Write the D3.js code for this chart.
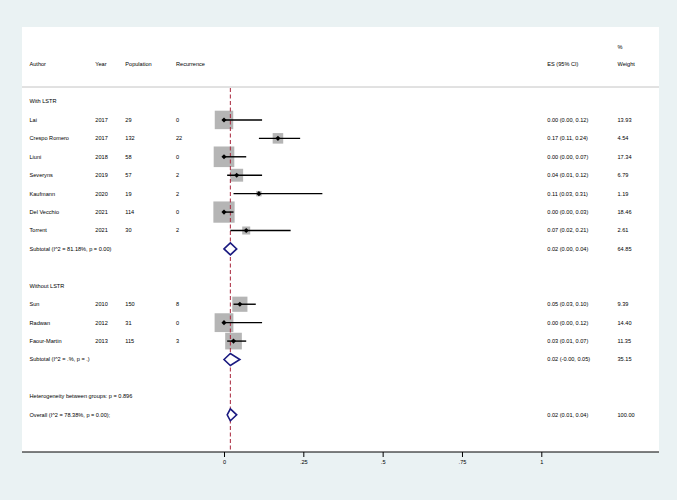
<!DOCTYPE html>
<html>
<head>
<meta charset="utf-8">
<script src="https://cdn.jsdelivr.net/npm/d3@7"></script>
<style>
  html, body { margin: 0; padding: 0; background: #eaf2f3; }
  svg { display: block; }
  text { font-family: "Liberation Sans", Arial, Helvetica, sans-serif; font-size: 5.6px; fill: #000; }
</style>
</head>
<body>
<svg id="chart" width="677" height="500"></svg>
<script>
// ---- data ----
const authors     = ["Lai", "Crespo Romero", "Liuni", "Severyns", "Kaufmann", "Del Vecchio", "Torrent", "Sun", "Radwan", "Faour-Martin"];
const years       = [2017, 2017, 2018, 2019, 2020, 2021, 2021, 2010, 2012, 2013];
const populations = [29, 132, 58, 57, 19, 114, 30, 150, 31, 115];
const recurrences = [0, 22, 0, 2, 2, 0, 2, 8, 0, 3];
const esValues    = [0.00, 0.17, 0.00, 0.04, 0.11, 0.00, 0.07, 0.05, 0.00, 0.03];
const ciLow       = [0.00, 0.11, 0.00, 0.01, 0.03, 0.00, 0.02, 0.03, 0.00, 0.01];
const ciHigh      = [0.12, 0.24, 0.07, 0.12, 0.31, 0.03, 0.21, 0.10, 0.12, 0.07];
const weights     = [13.93, 4.54, 17.34, 6.79, 1.19, 18.46, 2.61, 9.39, 14.40, 11.35];
const groups      = ["With LSTR", "Without LSTR"];
const groupOf     = [0, 0, 0, 0, 0, 0, 0, 1, 1, 1];
const subLabels   = ["Subtotal  (I^2 = 81.18%, p = 0.00)", "Subtotal  (I^2 = .%, p = .)"];
const subES       = [0.02, 0.02];
const subLow      = [0.00, -0.00];
const subHigh     = [0.04, 0.05];
const subLowText  = ["0.00", "-0.00"];
const subWeights  = [64.85, 35.15];
const hetText     = "Heterogeneity between groups: p = 0.896";
const overallLabel = "Overall  (I^2 = 78.38%, p = 0.00);";
const overallES = 0.02, overallLow = 0.01, overallHigh = 0.04, overallWeight = 100.00;
const tickValues  = [0, 0.25, 0.5, 0.75, 1];
const tickLabels  = ["0", ".25", ".5", ".75", "1"];

// ---- layout ----
const svg = d3.select("#chart");
const plot = { x0: 22, x1: 659, y0: 27, y1: 452 };
const x = d3.scaleLinear().domain([0, 1]).range([224, 541.3]);
const rowY = i => 101.5 + i * 18.43;
const col = { author: 29.5, year: 95.3, pop: 125.3, rec: 176, es: 547.3, wt: 617.5 };
const fmt = d3.format(".2f");

// white plot region
svg.append("rect").attr("x", plot.x0).attr("y", plot.y0)
  .attr("width", plot.x1 - plot.x0).attr("height", plot.y1 - plot.y0).attr("fill", "#ffffff");

// header
const hdrY = 64.5;
[["Author", col.author], ["Year", col.year], ["Population", col.pop], ["Recurrence", col.rec],
 ["ES (95% CI)", col.es], ["Weight", col.wt]].forEach(([t, cx]) => {
  svg.append("text").attr("x", cx).attr("y", hdrY).attr("dy", "0.35em").text(t);
});
svg.append("text").attr("x", col.wt).attr("y", 47).attr("dy", "0.35em").text("%");
svg.append("line").attr("x1", plot.x0).attr("x2", plot.x1).attr("y1", 87).attr("y2", 87)
  .attr("stroke", "#c4c4c4").attr("stroke-width", 1);

// row assignment
const rows = [];
let r = 0;
groups.forEach((g, gi) => {
  rows.push({ type: "group", label: g, row: r++ });
  authors.forEach((a, i) => { if (groupOf[i] === gi) rows.push({ type: "study", i, row: r++ }); });
  rows.push({ type: "sub", gi, row: r++ });
  r++; // blank
});
rows.push({ type: "het", row: r++ });
rows.push({ type: "overall", row: r++ });

const boxK = 4.95;
const diamondH = 6;
function diamond(cx, lo, hi, cy) {
  return `M${x(lo)},${cy} L${cx},${cy - diamondH} L${x(hi)},${cy} L${cx},${cy + diamondH} Z`;
}

rows.forEach(d => {
  const y = rowY(d.row);
  const tx = (cx, t) => svg.append("text").attr("x", cx).attr("y", y).attr("dy", "0.35em").text(t);
  if (d.type === "group") tx(col.author, d.label);
  if (d.type === "study") {
    const i = d.i;
    tx(col.author, authors[i]); tx(col.year, years[i]); tx(col.pop, populations[i]); tx(col.rec, recurrences[i]);
    tx(col.es, `${fmt(esValues[i])} (${fmt(ciLow[i])}, ${fmt(ciHigh[i])})`);
    tx(col.wt, fmt(weights[i]));
    const s = boxK * Math.sqrt(weights[i]);
    svg.append("rect").attr("x", x(esValues[i]) - s / 2).attr("y", y - s / 2)
      .attr("width", s).attr("height", s).attr("fill", "#b5b5b5");
  }
  if (d.type === "sub") {
    tx(col.author, subLabels[d.gi]);
    tx(col.es, `${fmt(subES[d.gi])} (${subLowText[d.gi]}, ${fmt(subHigh[d.gi])})`);
    tx(col.wt, fmt(subWeights[d.gi]));
  }
  if (d.type === "het") tx(col.author, hetText);
  if (d.type === "overall") {
    tx(col.author, overallLabel);
    tx(col.es, `${fmt(overallES)} (${fmt(overallLow)}, ${fmt(overallHigh)})`);
    tx(col.wt, fmt(overallWeight));
  }
});

// overall dashed line (over boxes)
svg.append("line").attr("x1", x(overallES)).attr("x2", x(overallES)).attr("y1", 88).attr("y2", plot.y1)
  .attr("stroke", "#a8243a").attr("stroke-width", 1).attr("stroke-dasharray", "4,2.5");

// CI lines & point markers on top
rows.filter(d => d.type === "study").forEach(d => {
  const i = d.i, y = rowY(d.row);
  svg.append("line").attr("x1", x(ciLow[i])).attr("x2", x(ciHigh[i])).attr("y1", y).attr("y2", y)
    .attr("stroke", "#000").attr("stroke-width", 1.4);
  svg.append("path").attr("d", d3.symbol(d3.symbolSquare, 13)())
    .attr("transform", `translate(${x(esValues[i])},${y}) rotate(45)`).attr("fill", "#000");
});

// diamonds
rows.filter(d => d.type === "sub").forEach(d => {
  const y = rowY(d.row);
  svg.append("path").attr("d", diamond(x(subES[d.gi]), subLow[d.gi], subHigh[d.gi], y))
    .attr("fill", "#fff").attr("stroke", "#1a1a80").attr("stroke-width", 1.6);
});
rows.filter(d => d.type === "overall").forEach(d => {
  const y = rowY(d.row);
  svg.append("path").attr("d", diamond(x(overallES), overallLow, overallHigh, y))
    .attr("fill", "#fff").attr("stroke", "#1a1a80").attr("stroke-width", 1.6);
});

// x axis
svg.append("line").attr("x1", plot.x0).attr("x2", plot.x1).attr("y1", plot.y1).attr("y2", plot.y1)
  .attr("stroke", "#000").attr("stroke-width", 1);
const axis = d3.axisBottom(x).tickValues(tickValues)
  .tickFormat((v, i) => tickLabels[i]).tickSize(5).tickPadding(3);
const ag = svg.append("g").attr("transform", `translate(0,${plot.y1})`).call(axis);
ag.select(".domain").remove();
ag.selectAll("text").style("font-family", "'Liberation Sans', Arial, sans-serif").style("font-size", "5.6px").attr("fill", "#000");
</script>
</body>
</html>
